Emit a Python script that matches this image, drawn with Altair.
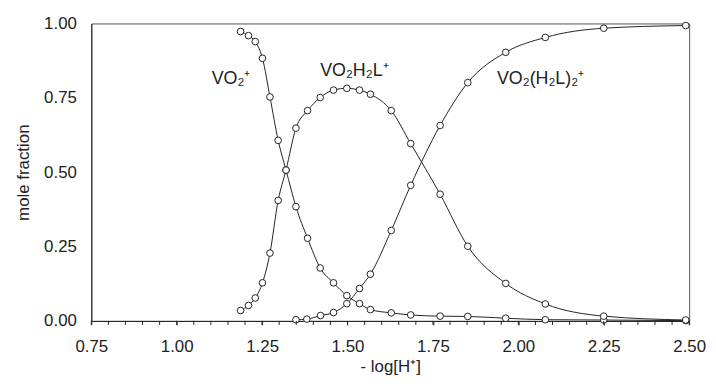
import altair as alt
import pandas as pd

# shared abscissae for VO2+ and VO2H2L+
x_a = [1.187, 1.210, 1.230, 1.251, 1.273, 1.297, 1.320, 1.349, 1.383, 1.420, 1.459,
       1.498, 1.535, 1.567, 1.628, 1.685, 1.771, 1.852, 1.963, 2.079, 2.250, 2.490]
vo2 = [0.973, 0.959, 0.939, 0.883, 0.753, 0.607, 0.507, 0.384, 0.278, 0.178, 0.128,
       0.085, 0.058, 0.038, 0.027, 0.020, 0.016, 0.015, 0.009, 0.004, 0.003, 0.001]
vo2h2l = [0.035, 0.052, 0.077, 0.128, 0.228, 0.405, 0.507, 0.648, 0.707, 0.751, 0.776,
          0.782, 0.776, 0.762, 0.707, 0.596, 0.426, 0.251, 0.126, 0.057, 0.016, 0.003]

x_b = [1.349, 1.381, 1.421, 1.459, 1.498, 1.535, 1.567, 1.628, 1.685, 1.771, 1.852,
       1.963, 2.079, 2.250, 2.490]
vo2h2l2 = [0.004, 0.006, 0.018, 0.028, 0.058, 0.109, 0.157, 0.304, 0.456, 0.657, 0.801,
           0.903, 0.953, 0.984, 0.993]

label_text = ["VO₂⁺", "VO₂H₂L⁺", "VO₂(H₂L)₂⁺"]
label_x = [1.159, 1.520, 2.065]
label_y = [0.813, 0.840, 0.813]

x_ticks = [0.75, 1.00, 1.25, 1.50, 1.75, 2.00, 2.25, 2.50]
x_minor = [round(0.75 + 0.05 * i, 2) for i in range(36)]
y_ticks = [0.0, 0.25, 0.5, 0.75, 1.0]

rows = []
for xv, yv in zip(x_a, vo2):
    rows.append({"x": xv, "y": yv, "s": "VO2+"})
for xv, yv in zip(x_a, vo2h2l):
    rows.append({"x": xv, "y": yv, "s": "VO2H2L+"})
for xv, yv in zip(x_b, vo2h2l2):
    rows.append({"x": xv, "y": yv, "s": "VO2(H2L)2+"})
df = pd.DataFrame(rows)
labels = pd.DataFrame({"t": label_text, "x": label_x, "y": label_y})
minor = pd.DataFrame({"x": x_minor})

FONT = "Liberation Sans"
INK = "#222222"

xscale = alt.Scale(domain=[0.75, 2.5], nice=False, zero=False)
yscale = alt.Scale(domain=[0, 1], nice=False)
xaxis = alt.Axis(title="- log[H⁺]", values=x_ticks, format=".2f", labelOverlap=False,
                 grid=False, tickSize=4, labelPadding=14, labelFlush=False, titlePadding=4)
yaxis = alt.Axis(title="mole fraction", values=y_ticks, format=".2f", labelOverlap=False,
                 grid=False, tickSize=0, labelPadding=15, titlePadding=11)


def X(field="x"):
    return alt.X(f"{field}:Q", scale=xscale, axis=xaxis)


def Y(field="y"):
    return alt.Y(f"{field}:Q", scale=yscale, axis=yaxis)


lines = alt.Chart(df).mark_line(color=INK, strokeWidth=1, interpolate="monotone").encode(
    x=X(), y=Y(), detail="s:N")
points = alt.Chart(df).mark_point(shape="circle", filled=True, fill="white", stroke=INK,
                                  strokeWidth=1, size=45, opacity=1).encode(
    x=X(), y=Y(), detail="s:N")
texts = alt.Chart(labels).mark_text(font=FONT, fontSize=18, color=INK).encode(
    x=X(), y=Y(), text="t:N")
ticks = alt.Chart(minor).mark_rule(color=INK, strokeWidth=1).encode(
    x=X(), y=alt.value(300), y2=alt.value(304))

chart = alt.layer(lines, points, texts, ticks).properties(
    width=603, height=300,
    autosize=alt.AutoSizeParams(type="none"),
    padding={"left": 84, "top": 14, "right": 19, "bottom": 57},
).configure_view(stroke="#555555", strokeWidth=1).configure_axis(
    labelFont=FONT, titleFont=FONT, labelFontSize=17, titleFontSize=17,
    titleFontWeight="normal", labelColor=INK, titleColor=INK,
    domainColor=INK, tickColor=INK,
)

chart.save("out.html", embed_options={"renderer": "svg", "actions": False})
